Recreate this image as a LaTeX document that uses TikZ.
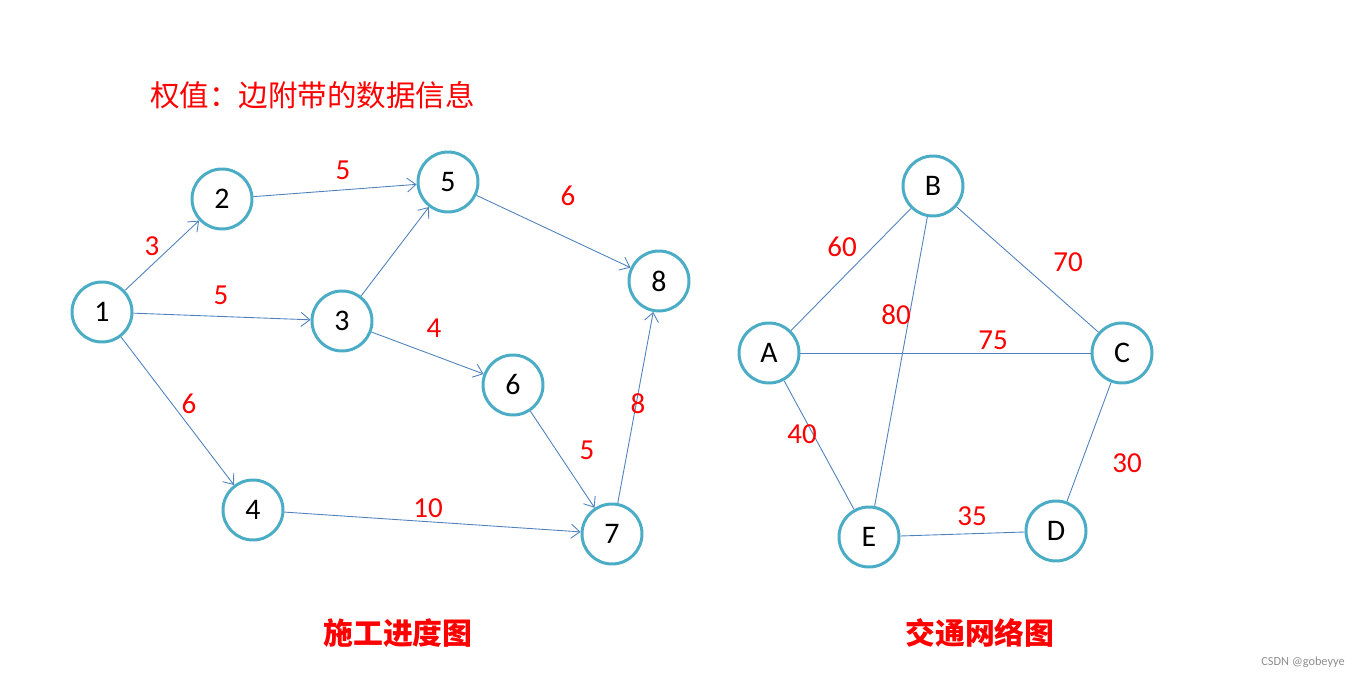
\documentclass[tikz,border=0pt]{standalone}
\usepackage{fontspec}
\setmainfont{Carlito}
\newfontfamily\cjk{Noto Sans CJK SC}
\usepackage{tikz}
\usetikzlibrary{arrows.meta}
\definecolor{ring}{HTML}{4BACC6}
\definecolor{edgeblue}{HTML}{4F81BD}
\definecolor{weight}{HTML}{FF0000}

\begin{document}
\begin{tikzpicture}[
  vnode/.style={draw=ring, line width=1.7pt, circle, minimum size=1.2cm, inner sep=0pt,
                fill=white, font=\fontsize{17}{19}\selectfont},
  arc/.style={draw=edgeblue, line width=0.5pt, -{Straight Barb[length=5pt,width=8pt]}},
  link/.style={draw=edgeblue, line width=0.5pt},
  wlabel/.style={text=weight, font=\fontsize{16.5}{18}\selectfont, inner sep=0pt},
  caption/.style={text=weight, font=\cjk\bfseries\fontsize{17}{20}\selectfont}
]
  \useasboundingbox (0,0) rectangle (27.32,13.56);

  \node[text=weight, font=\cjk\fontsize{16.8}{19}\selectfont, anchor=west] (title) at (2.88,11.66) {权值：边附带的数据信息};

  \node[vnode] (n1) at (2.04,7.32) {1};
  \node[vnode] (n2) at (4.44,9.58) {2};
  \node[vnode] (n5) at (8.96,9.92) {5};
  \node[vnode] (n3) at (6.84,7.14) {3};
  \node[vnode] (n8) at (13.18,7.94) {8};
  \node[vnode] (n6) at (10.26,5.86) {6};
  \node[vnode] (n4) at (5.06,3.36) {4};
  \node[vnode] (n7) at (12.24,2.88) {7};

  \draw[arc] (n1) -- (n2);
  \draw[arc] (n1) -- (n3);
  \draw[arc] (n1) -- (n4);
  \draw[arc] (n2) -- (n5);
  \draw[arc] (n3) -- (n5);
  \draw[arc] (n3) -- (n6);
  \draw[arc] (n5) -- (n8);
  \draw[arc] (n6) -- (n7);
  \draw[arc] (n4) -- (n7);
  \draw[arc] (n7) -- (n8);

  \node[wlabel] (w12) at (3.04,8.64) {3};
  \node[wlabel] (w25) at (6.86,10.16) {5};
  \node[wlabel] (w58) at (11.36,9.64) {6};
  \node[wlabel] (w13) at (4.42,7.66) {5};
  \node[wlabel] (w36) at (8.68,7.00) {4};
  \node[wlabel] (w14) at (3.78,5.48) {6};
  \node[wlabel] (w78) at (12.76,5.48) {8};
  \node[wlabel] (w67) at (11.74,4.56) {5};
  \node[wlabel] (w47) at (8.56,3.40) {10};

  \node[vnode] (B) at (18.66,9.84) {B};
  \node[vnode] (A) at (15.38,6.50) {A};
  \node[vnode] (C) at (22.44,6.50) {C};
  \node[vnode] (E) at (17.38,2.82) {E};
  \node[vnode] (D) at (21.12,2.94) {D};

  \draw[link] (A) -- (B);
  \draw[link] (B) -- (C);
  \draw[link] (A) -- (C);
  \draw[link] (A) -- (E);
  \draw[link] (B) -- (E);
  \draw[link] (C) -- (D);
  \draw[link] (E) -- (D);

  \node[wlabel] (wab) at (16.84,8.62) {60};
  \node[wlabel] (wbc) at (21.36,8.32) {70};
  \node[wlabel] (wbe) at (17.92,7.26) {80};
  \node[wlabel] (wac) at (19.86,6.76) {75};
  \node[wlabel] (wae) at (16.04,4.88) {40};
  \node[wlabel] (wcd) at (22.54,4.30) {30};
  \node[wlabel] (wed) at (19.44,3.24) {35};

  \node[caption] (cap1) at (7.96,0.90) {施工进度图};
  \node[caption] (cap2) at (19.60,0.90) {交通网络图};

  \node[text=black!45, font=\fontsize{7}{8}\selectfont] (mark) at (26.06,0.32) {CSDN @gobeyye};
\end{tikzpicture}
\end{document}
